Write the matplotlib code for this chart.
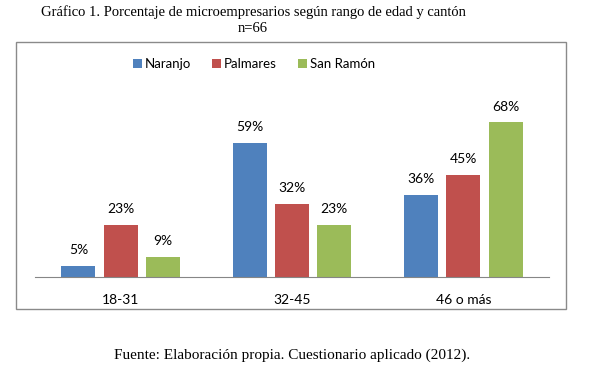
import numpy as np
import matplotlib.pyplot as plt
from matplotlib.patches import Rectangle

categories = ['18-31', '32-45', '46 o más']
series = ['Naranjo', 'Palmares', 'San Ramón']
naranjo = [5, 59, 36]
palmares = [23, 32, 45]
san_ramon = [9, 23, 68]
colors = ['#4F81BD', '#C0504D', '#9BBB59']

W, H = 605, 386
fig = plt.figure(figsize=(W / 100, H / 100), dpi=100)

# outer chart frame
fig.patches.append(Rectangle((16 / W, 1 - 309 / H), 550 / W, 267 / H,
                             transform=fig.transFigure, fill=False,
                             edgecolor='#8a8a8a', linewidth=1))

ax = fig.add_axes([35 / W, 1 - 277 / H, 514 / W, 182 / H])
x = np.arange(len(categories))
bw = 0.2
gap = 0.047
values = [naranjo, palmares, san_ramon]
for i, (name, vals) in enumerate(zip(series, values)):
    pos = x + (i - 1) * (bw + gap)
    bars = ax.bar(pos, vals, bw, color=colors[i], label=name)
    for b, v in zip(bars, vals):
        ax.annotate(f'{v}%', (b.get_x() + b.get_width() / 2, v),
                    xytext=(0, 7), textcoords='offset points',
                    ha='center', va='bottom', fontsize=10, family='Lato')

ax.set_xlim(-0.5, 2.5)
ax.set_ylim(0, 80)
ax.set_yticks([])
ax.set_xticks(x)
ax.set_xticklabels(categories, fontsize=10, family='Lato')
ax.tick_params(axis='x', length=0, pad=12)
for s in ['top', 'left', 'right']:
    ax.spines[s].set_visible(False)
ax.spines['bottom'].set_color('#868686')

fig.legend(loc='center', bbox_to_anchor=(254 / W, 1 - 64 / H), ncol=3,
           frameon=False, handlelength=0.65, handleheight=0.65,
           handletextpad=0.25, columnspacing=1.6,
           prop={'family': 'Lato', 'size': 9.5})

fig.text(253 / W, 1 - 12 / H,
         'Gráfico 1. Porcentaje de microempresarios según rango de edad y cantón',
         ha='center', va='center', fontsize=10.5, family='Liberation Serif')
fig.text(253 / W, 1 - 28 / H, 'n=66', ha='center', va='center',
         fontsize=10.5, family='Liberation Serif')
fig.text(292 / W, 1 - 355 / H,
         'Fuente: Elaboración propia. Cuestionario aplicado (2012).',
         ha='center', va='center', fontsize=11, family='Liberation Serif')

fig.savefig('out.png', dpi=100)
